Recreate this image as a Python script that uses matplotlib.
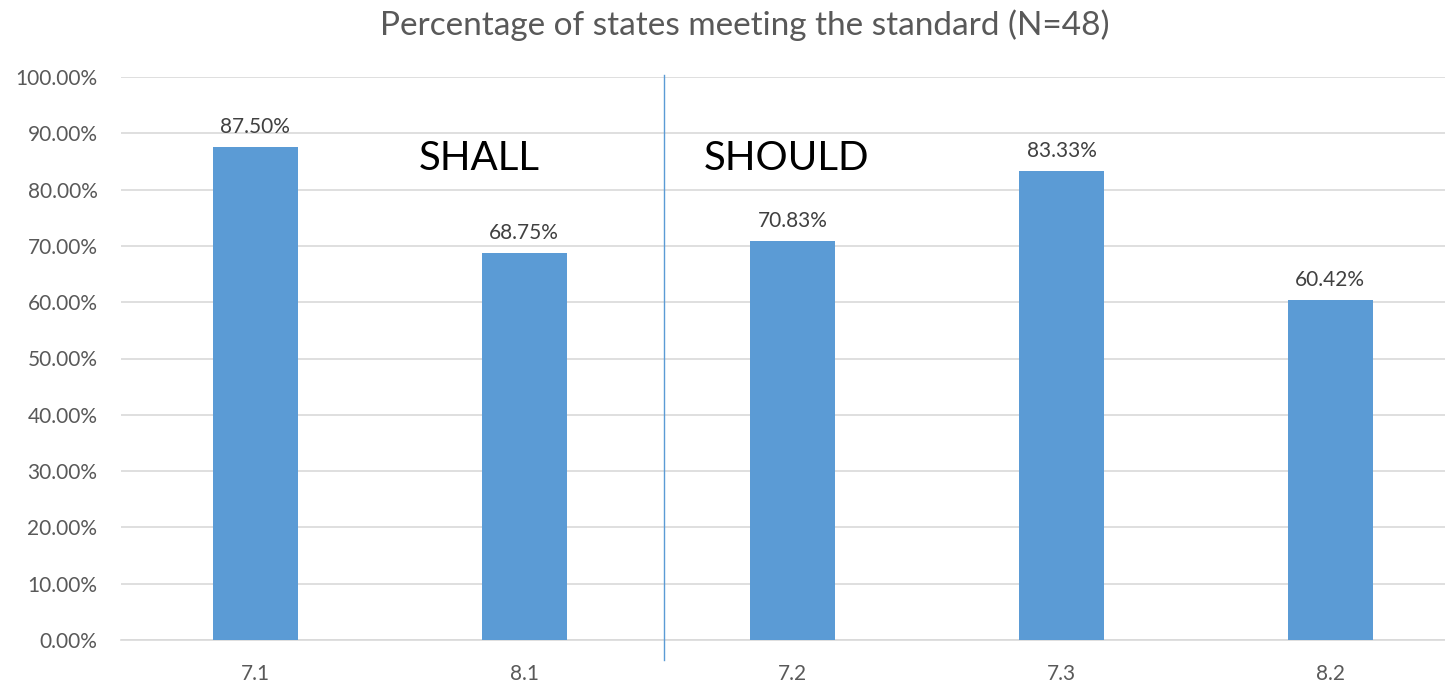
import matplotlib.pyplot as plt

categories = ["7.1", "8.1", "7.2", "7.3", "8.2"]
values = [87.50, 68.75, 70.83, 83.33, 60.42]
y_ticks = [0, 10, 20, 30, 40, 50, 60, 70, 80, 90, 100]

bar_color = "#5B9BD5"
plt.rcParams["font.family"] = ["Lato", "DejaVu Sans"]

fig = plt.figure(figsize=(14.45, 6.83), dpi=100)
ax = fig.add_axes([121 / 1445, 1 - 640 / 683, 1343.5 / 1445, 563 / 683])

x = range(len(categories))
ax.bar(x, values, width=0.316, color=bar_color, zorder=3)
for i, v in enumerate(values):
    ax.text(i, v + 1.8, f"{v:.2f}%", ha="center", va="bottom", fontsize=15, color="#404040")

ax.set_xlim(-0.5, len(categories) - 0.5)
ax.set_ylim(0, 100)
ax.set_yticks(y_ticks)
ax.set_yticklabels([f"{t:.2f}%" for t in y_ticks], fontsize=15, color="#595959")
ax.set_xticks(list(x))
ax.set_xticklabels(categories, fontsize=15, color="#595959")
ax.tick_params(length=0, pad=17, axis="y")
ax.tick_params(length=0, pad=17, axis="x")
ax.grid(axis="y", color="#D9D9D9", linewidth=1.2, zorder=0)
for side in ["top", "right", "left"]:
    ax.spines[side].set_visible(False)
ax.spines["bottom"].set_color("#D9D9D9")
ax.spines["bottom"].set_linewidth(1.2)

# divider between SHALL and SHOULD groups
ax.plot([1.52, 1.52], [100.4, -3.6], color=bar_color, linewidth=1, clip_on=False, zorder=4)
ax.text(0.832, 85.6, "SHALL", ha="center", va="center", fontsize=29, color="black")
ax.text(1.978, 85.6, "SHOULD", ha="center", va="center", fontsize=29, color="black")

fig.text(745 / 1445, 1 - 25 / 683, "Percentage of states meeting the standard (N=48)",
         ha="center", va="center", fontsize=24, color="#595959")

fig.savefig("out.png", dpi=100)
